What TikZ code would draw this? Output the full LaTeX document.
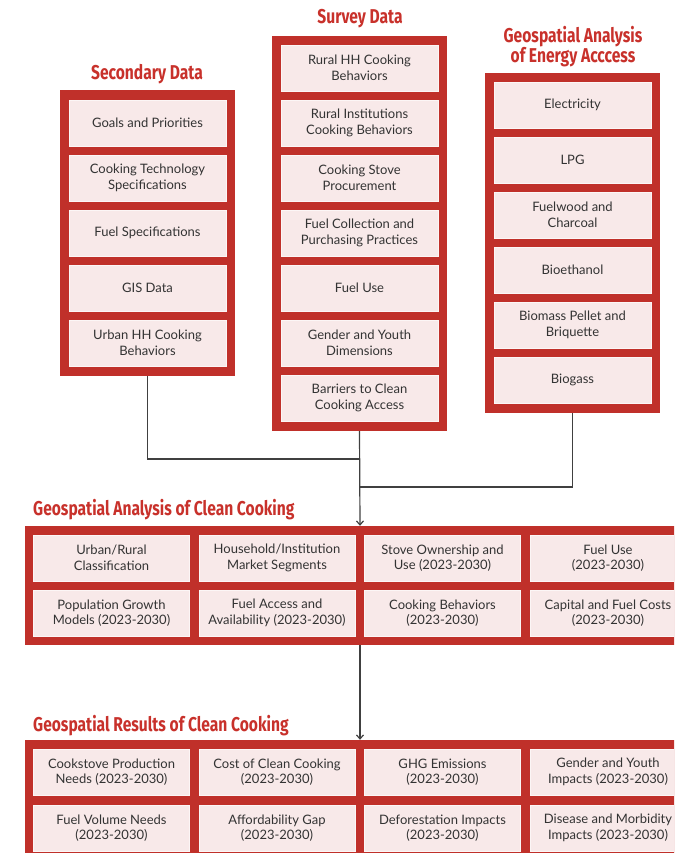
\documentclass[tikz,border=0pt]{standalone}
\usepackage{fontspec}
\setmainfont{Lato}
\newfontfamily\titlefont[FakeStretch=0.78]{Fira Sans}
\usetikzlibrary{arrows.meta}
\definecolor{boxred}{HTML}{C0302A}
\definecolor{itemfill}{HTML}{F8E9E9}
\definecolor{titlered}{HTML}{C8312B}
\definecolor{txtgray}{HTML}{333333}

\begin{document}
\begin{tikzpicture}[
    x=1pt, y=-1pt,
    group/.style={rectangle, fill=boxred, draw=none, inner sep=0pt},
    item/.style={rectangle, fill=itemfill, draw=white!60!itemfill, line width=0.8pt,
        minimum width=157pt, minimum height=46pt, inner sep=0pt, align=center,
        text=txtgray, font=\fontsize{13}{15.5}\selectfont},
    heading/.style={text=titlered, inner sep=0pt, font=\titlefont\bfseries\fontsize{20}{20}\selectfont},
    link/.style={draw=black!75, line width=1.2pt},
    >={Straight Barb[length=4pt,width=7pt]}
]
\useasboundingbox (0,0) rectangle (674,853);
\clip (0,0) rectangle (674,853);

% Secondary data
\node[heading] (secT) at (147,74) {Secondary Data};
\node[group, minimum width=175pt, minimum height=286pt] (sec) at (147.5,233) {};
\foreach \txt [count=\i] in {Goals and Priorities, {Cooking Technology\\Specifications},
    Fuel Specifications, GIS Data, {Urban HH Cooking\\Behaviors}} {
    \node[item] (s\i) at (147.5,{68+55*\i}) {\txt};
}

% Survey data
\node[heading] (surT) at (360,19) {Survey Data};
\node[group, minimum width=175pt, minimum height=395pt] (sur) at (359.5,233.5) {};
\foreach \txt [count=\i] in {{Rural HH Cooking\\Behaviors}, {Rural Institutions\\Cooking Behaviors},
    {Cooking Stove\\Procurement}, {Fuel Collection and\\Purchasing Practices}, Fuel Use,
    {Gender and Youth\\Dimensions}, {Barriers to Clean\\Cooking Access}} {
    \node[item] (v\i) at (359.5,{13+55*\i}) {\txt};
}

% Energy access
\node[heading, align=center] (eneT) at (573,47) {Geospatial Analysis\\of Energy Acccess};
\node[group, minimum width=175pt, minimum height=340pt] (ene) at (572.5,243) {};
\foreach \txt [count=\i] in {Electricity, LPG, {Fuelwood and\\Charcoal}, Bioethanol,
    {Biomass Pellet and\\Briquette}, Biogass} {
    \node[item] (e\i) at (572.5,{50+55*\i}) {\txt};
}

% Clean cooking analysis
\node[heading, anchor=west] (anaT) at (33,510) {Geospatial Analysis of Clean Cooking};
\node[group, minimum width=670pt, minimum height=119pt] (ana) at (360,585.5) {};
\foreach \txt [count=\i] in {{Urban/Rural\\Classification}, {Household/Institution\\Market Segments},
    {Stove Ownership and\\Use (2023-2030)}, {Fuel Use\\(2023-2030)}} {
    \node[item, minimum width=156pt] (a\i) at ({111.5+165.5*(\i-1)},558) {\txt};
}
\foreach \txt [count=\i] in {{Population Growth\\Models (2023-2030)}, {Fuel Access and\\Availability (2023-2030)},
    {Cooking Behaviors\\(2023-2030)}, {Capital and Fuel Costs\\(2023-2030)}} {
    \node[item, minimum width=156pt] (b\i) at ({111.5+165.5*(\i-1)},613) {\txt};
}

% Clean cooking results
\node[heading, anchor=west] (resT) at (33,726) {Geospatial Results of Clean Cooking};
\node[group, minimum width=670pt, minimum height=120pt] (res) at (360,800) {};
\foreach \txt [count=\i] in {{Cookstove Production\\Needs (2023-2030)}, {Cost of Clean Cooking\\(2023-2030)},
    {GHG Emissions\\(2023-2030)}, {Gender and Youth\\Impacts (2023-2030)}} {
    \node[item, minimum width=156pt] (r\i) at ({111.5+165.5*(\i-1)},772) {\txt};
}
\foreach \txt [count=\i] in {{Fuel Volume Needs\\(2023-2030)}, {Affordability Gap\\(2023-2030)},
    {Deforestation Impacts\\(2023-2030)}, {Disease and Morbidity\\Impacts (2023-2030)}} {
    \node[item, minimum width=156pt] (q\i) at ({111.5+165.5*(\i-1)},828) {\txt};
}

% Connections
\coordinate (j1) at (359.5,459);
\coordinate (j2) at (359.5,487);
\draw[link] (sec.south) |- (j1);
\draw[link] (ene.south) |- (j2);
\draw[link,->] (sur.south) -- (ana.north);
\draw[link,->] (ana.south) -- (res.north);

\end{tikzpicture}
\end{document}
